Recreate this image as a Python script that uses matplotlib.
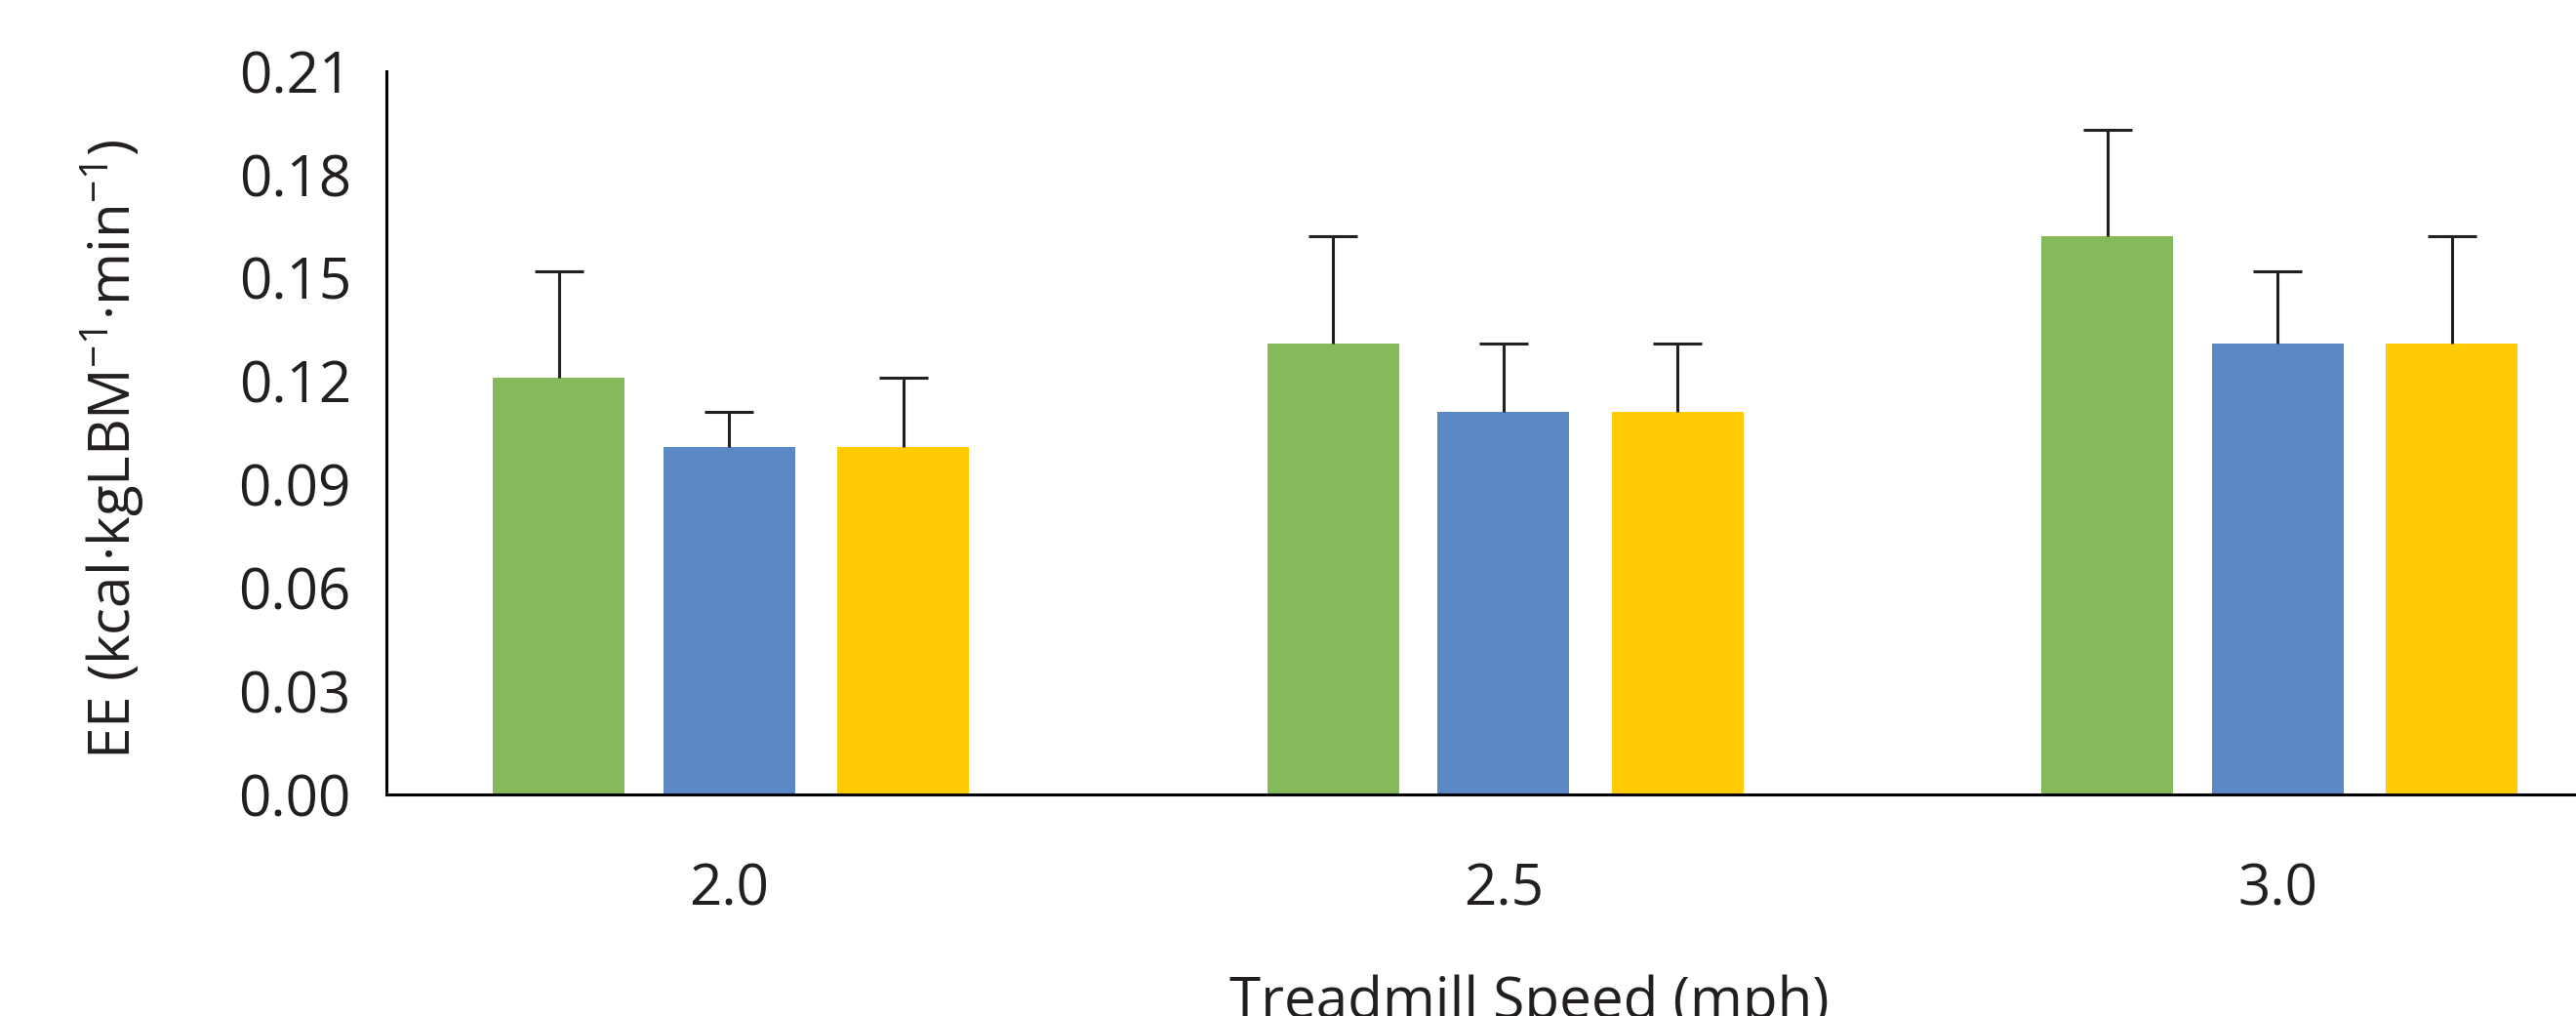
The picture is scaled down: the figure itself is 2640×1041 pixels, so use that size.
import matplotlib
matplotlib.use("Agg")
import matplotlib.pyplot as plt
import numpy as np

speeds = ["2.0", "2.5", "3.0"]
green_vals = [0.121, 0.131, 0.162]
green_err = [0.031, 0.031, 0.031]
blue_vals = [0.101, 0.111, 0.131]
blue_err = [0.010, 0.020, 0.021]
yellow_vals = [0.101, 0.111, 0.131]
yellow_err = [0.020, 0.020, 0.031]
yticks = [0.00, 0.03, 0.06, 0.09, 0.12, 0.15, 0.18, 0.21]

plt.rcParams['font.family'] = ['Open Sans', 'DejaVu Sans']
plt.rcParams['mathtext.fontset'] = 'custom'
plt.rcParams['mathtext.rm'] = 'Open Sans'
plt.rcParams['mathtext.it'] = 'Open Sans'

dpi = 200
fig = plt.figure(figsize=(2640 / dpi, 1041 / dpi), dpi=dpi)
ax = fig.add_axes([396 / 2640, 1 - 814 / 1041, 1 - 396 / 2640, (814 - 73) / 1041])

x = np.arange(len(speeds))
w = 0.17
ekw = dict(ecolor='#231F20', elinewidth=1.1, capsize=9, capthick=1.1)
series = [(green_vals, green_err, '#84BA5B', -0.22),
          (blue_vals, blue_err, '#5A89C5', 0.0),
          (yellow_vals, yellow_err, '#FECB05', 0.225)]
for vals, err, col, o in series:
    lower = np.zeros(len(vals))
    bars = ax.bar(x + o, vals, w, color=col, zorder=2,
                  yerr=[lower, err], error_kw=ekw)
    caplines = bars.errorbar.lines[1]
    for cl in caplines:
        yd = np.asarray(cl.get_ydata(), dtype=float)
        if np.allclose(yd, vals):
            cl.set_visible(False)

ax.set_xlim(-0.4428, 2.3855)
ax.set_ylim(0, 0.21)
ax.set_yticks(yticks)
ax.set_yticklabels([f"{t:.2f}" for t in yticks])
ax.set_xticks(x)
ax.set_xticklabels(speeds)
ax.tick_params(axis='both', length=0, labelsize=21, colors='#231F20')
ax.tick_params(axis='y', pad=13)
ax.tick_params(axis='x', pad=25)

for s in ['top', 'right']:
    ax.spines[s].set_visible(False)
for s in ['left', 'bottom']:
    ax.spines[s].set_linewidth(1.1)
    ax.spines[s].set_color('#000000')

fig.text(115 / 2640, 1 - 460 / 1041, r'EE (kcal·kgLBM$^{-1}$·min$^{-1}$)',
         rotation=90, ha='center', va='center', fontsize=21, color='#231F20')
fig.text((751 + 1110) / 2 * 1.684 / 2640, 1 - 1043 / 1041, 'Treadmill Speed (mph)',
         ha='center', va='baseline', fontsize=21, color='#231F20')

fig.savefig("out.png", dpi=dpi)
